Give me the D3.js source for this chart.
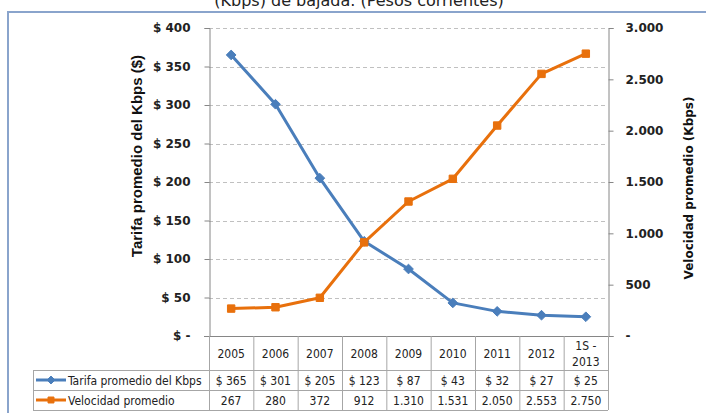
<!DOCTYPE html>
<html><head><meta charset="utf-8">
<script src="https://cdn.jsdelivr.net/npm/d3@7"></script>
<style>
html,body{margin:0;padding:0;background:#fff;overflow:hidden;}
svg{display:block;}
</style></head>
<body>
<svg id="c" width="706" height="413"></svg>
<script>
const categories = ["2005","2006","2007","2008","2009","2010","2011","2012","1S - 2013"];
const tarifa = [365,301,205,123,87,43,32,27,25];
const velocidad = [267,280,372,912,1310,1531,2050,2553,2750];
const tarifaLabels = ["$ 365","$ 301","$ 205","$ 123","$ 87","$ 43","$ 32","$ 27","$ 25"];
const velocidadLabels = ["267","280","372","912","1.310","1.531","2.050","2.553","2.750"];
const leftTicks = [0,50,100,150,200,250,300,350,400];
const rightTicks = [0,500,1000,1500,2000,2500,3000];
const seriesNames = ["Tarifa promedio del Kbps","Velocidad promedio"];
const titleText = "(Kbps) de bajada. (Pesos corrientes)";
const leftTitle = "Tarifa promedio del Kbps ($)";
const rightTitle = "Velocidad promedio (Kbps)";

const BLUE = "#4a7ebb", ORANGE = "#e8700c", GRID = "#c0c0c0", AX = "#868686", TB = "#a6a6a6";
const svg = d3.select("#c");
const L = 209, R = 608, T = 28, B = 336;
const x = d3.scaleBand().domain(categories).range([L, R]).padding(0);
const yL = d3.scaleLinear().domain([0, 400]).range([B, T]);
const yR = d3.scaleLinear().domain([0, 3000]).range([B, T]);

// title (partly above the top edge, as in the reference)
svg.append("text").attr("x", 359).attr("y", 6).attr("text-anchor", "middle")
  .attr("font-family", "DejaVu Sans").attr("font-size", 16).attr("fill", "#222").text(titleText);

// outer border
svg.append("rect").attr("x", 8).attr("y", 12).attr("width", 760).attr("height", 450)
  .attr("fill", "none").attr("stroke", "#8aa4cc").attr("stroke-width", 2);

// gridlines
svg.append("g").selectAll("line").data(leftTicks.filter(d => d > 0)).join("line")
  .attr("x1", L).attr("x2", R).attr("y1", d => Math.round(yL(d)) + 0.5).attr("y2", d => Math.round(yL(d)) + 0.5)
  .attr("stroke", GRID).attr("stroke-dasharray", "4,3");

// left axis
const gl = svg.append("g").attr("transform", `translate(${L + 0.5},0)`)
  .call(d3.axisLeft(yL).tickValues(leftTicks).tickSize(5).tickPadding(14)
    .tickFormat(d => d === 0 ? "$ -" : "$ " + d));
gl.select(".domain").attr("stroke", AX);
gl.selectAll(".tick line").attr("stroke", AX);
gl.selectAll("text").attr("font-family", "DejaVu Sans").attr("font-weight", "bold").attr("font-size", 12).attr("fill", "#222");

// right axis
const gr = svg.append("g").attr("transform", `translate(${R + 0.5},0)`)
  .call(d3.axisRight(yR).tickValues(rightTicks).tickSize(5).tickPadding(12)
    .tickFormat(d => d === 0 ? "-" : d3.format(",")(d).replace(",", ".")));
gr.select(".domain").attr("stroke", AX);
gr.selectAll(".tick line").attr("stroke", AX);
gr.selectAll("text").attr("font-family", "DejaVu Sans").attr("font-weight", "bold").attr("font-size", 12).attr("fill", "#222");

// axis titles
svg.append("text").attr("transform", "translate(142,156) rotate(-90)").attr("text-anchor", "middle")
  .attr("font-family", "Liberation Sans").attr("font-weight", "bold").attr("font-size", 15).attr("fill", "#111").text(leftTitle);
svg.append("text").attr("transform", "translate(693,188) rotate(-90)").attr("text-anchor", "middle")
  .attr("font-family", "DejaVu Sans").attr("font-weight", "bold").attr("font-size", 12).attr("fill", "#111").text(rightTitle);

// table
const H0 = 336, H1 = 370, H2 = 390, H3 = 410, TL = 33;
const tg = svg.append("g").attr("stroke", TB).attr("fill", "none");
tg.append("line").attr("x1", L - 5).attr("x2", R + 5).attr("y1", H0 + 0.5).attr("y2", H0 + 0.5).attr("stroke", AX);
[H1, H2, H3].forEach(yy => tg.append("line").attr("x1", TL).attr("x2", R).attr("y1", yy + 0.5).attr("y2", yy + 0.5));
categories.forEach(c => tg.append("line").attr("x1", x(c) + 0.5).attr("x2", x(c) + 0.5).attr("y1", H0).attr("y2", H3));
tg.append("line").attr("x1", R + 0.5).attr("x2", R + 0.5).attr("y1", H0).attr("y2", H3);
tg.append("line").attr("x1", TL + 0.5).attr("x2", TL + 0.5).attr("y1", H1).attr("y2", H3);

const tf = "DejaVu Sans Condensed, Liberation Sans, sans-serif";
const FS = 12;
const hdr = svg.append("g").attr("font-family", tf).attr("font-size", FS).attr("fill", "#222").attr("text-anchor", "middle");
categories.forEach(c => {
  const cx = x(c) + x.bandwidth() / 2;
  if (c.indexOf(" - ") >= 0) {
    const parts = c.split(" - ");
    hdr.append("text").attr("x", cx).attr("y", 350).text(parts[0] + " -");
    hdr.append("text").attr("x", cx).attr("y", 366).text(parts[1]);
  } else {
    hdr.append("text").attr("x", cx).attr("y", 358).text(c);
  }
});
categories.forEach((c, i) => {
  const cx = x(c) + x.bandwidth() / 2;
  hdr.append("text").attr("x", cx).attr("y", 385).text(tarifaLabels[i]);
  hdr.append("text").attr("x", cx).attr("y", 405).text(velocidadLabels[i]);
});

// legend keys
const lk = svg.append("g");
[[BLUE, 380, "diamond"], [ORANGE, 400, "square"]].forEach(([col, yy, shp], i) => {
  lk.append("line").attr("x1", 36).attr("x2", 66).attr("y1", yy).attr("y2", yy).attr("stroke", col).attr("stroke-width", 3);
  lk.append("path").attr("transform", `translate(51,${yy})`)
    .attr("d", d3.symbol().type(shp === "diamond" ? d3.symbolDiamond2 : d3.symbolSquare2).size(shp === "diamond" ? 40 : 45)())
    .attr("fill", col).attr("stroke", col).attr("stroke-width", 1);
  lk.append("text").attr("x", 68).attr("y", yy + 5).attr("font-family", tf).attr("font-size", FS).attr("fill", "#222").text(seriesNames[i]);
});

// series
const cx = c => x(c) + x.bandwidth() / 2;
const lineL = d3.line().x((d, i) => cx(categories[i])).y(d => yL(d));
const lineR = d3.line().x((d, i) => cx(categories[i])).y(d => yR(d));
svg.append("path").datum(tarifa).attr("d", lineL).attr("fill", "none").attr("stroke", BLUE).attr("stroke-width", 3).attr("stroke-linejoin", "round");
svg.append("path").datum(velocidad).attr("d", lineR).attr("fill", "none").attr("stroke", ORANGE).attr("stroke-width", 3).attr("stroke-linejoin", "round");
svg.append("g").selectAll("path").data(tarifa).join("path")
  .attr("transform", (d, i) => `translate(${cx(categories[i])},${yL(d)})`)
  .attr("d", d3.symbol().type(d3.symbolDiamond2).size(60)()).attr("fill", BLUE).attr("stroke", BLUE);
svg.append("g").selectAll("path").data(velocidad).join("path")
  .attr("transform", (d, i) => `translate(${cx(categories[i])},${yR(d)})`)
  .attr("d", d3.symbol().type(d3.symbolSquare2).size(70)()).attr("fill", ORANGE).attr("stroke", ORANGE);
</script>
</body></html>
